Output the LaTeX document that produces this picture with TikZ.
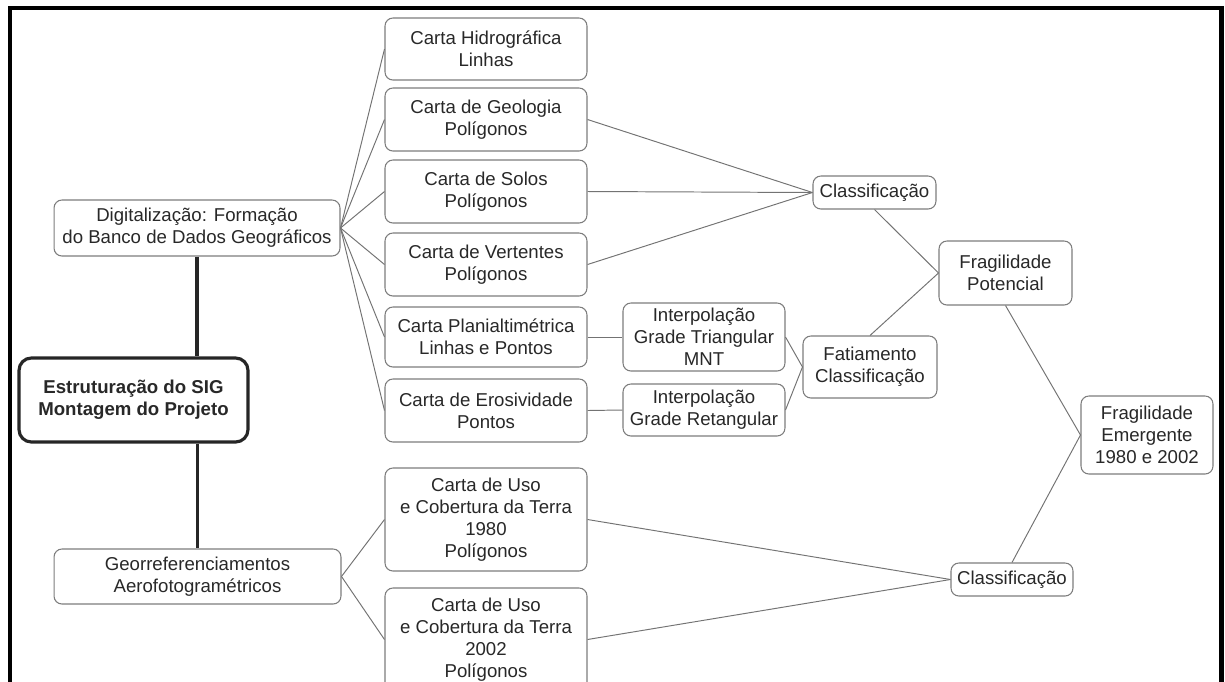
\documentclass[tikz,border=0pt]{standalone}
\usepackage{fontspec}
\setmainfont{Liberation Sans}
\usepackage{xcolor}
\usetikzlibrary{positioning}
\definecolor{MapEdge}{RGB}{125,125,125}
\definecolor{MapLine}{RGB}{115,115,115}
\definecolor{MapText}{RGB}{40,40,40}
\tikzset{
  mapbox/.style={draw=MapEdge, line width=0.6pt, rounded corners=4.5pt, fill=white,
    align=center, inner sep=0pt, text=MapText, font=\fontsize{10.6}{12.4}\selectfont},
  cartabox/.style={mapbox, minimum width=4.04cm, minimum height=1.26cm},
  usobox/.style={mapbox, minimum width=4.04cm, minimum height=2.06cm},
  rootbox/.style={mapbox, draw=black!85, line width=1.8pt, rounded corners=7pt,
    font=\bfseries\fontsize{10.6}{12.4}\selectfont},
  link/.style={draw=MapLine, line width=0.55pt},
  trunk/.style={draw=black!85, line width=1.8pt},
}

\begin{document}
\begin{tikzpicture}[x=0.02cm, y=-0.02cm]
  \useasboundingbox (0,0) rectangle (1225,681);
  \clip (0,0) rectangle (1225,681);

  % left column
  \node[mapbox, minimum width=5.72cm, minimum height=1.12cm] (dig) at (197,228) {Digitalização: Formação\\do Banco de Dados Geográficos};
  \node[rootbox, minimum width=4.58cm, minimum height=1.68cm] (root) at (133.5,400) {Estruturação do SIG\\Montagem do Projeto};
  \node[mapbox, minimum width=5.74cm, minimum height=1.10cm] (geo) at (197.5,576.5) {Georreferenciamentos\\Aerofotogramétricos};

  % cartas
  \node[cartabox, minimum height=1.24cm] (hidro) at (486,49) {Carta Hidrográfica\\Linhas};
  \node[cartabox] (geol) at (486,119.5) {Carta de Geologia\\Polígonos};
  \node[cartabox] (solos) at (486,191.5) {Carta de Solos\\Polígonos};
  \node[cartabox] (vert) at (486,264.5) {Carta de Vertentes\\Polígonos};
  \node[cartabox, minimum height=1.20cm] (plani) at (486,337) {Carta Planialtimétrica\\Linhas e Pontos};
  \node[cartabox] (eros) at (486,410.5) {Carta de Erosividade\\Pontos};
  \node[usobox] (uso80) at (486,519.5) {Carta de Uso\\e Cobertura da Terra\\1980\\Polígonos};
  \node[usobox] (uso02) at (486,639.5) {Carta de Uso\\e Cobertura da Terra\\2002\\Polígonos};

  % processamento
  \node[mapbox, minimum width=3.24cm, minimum height=1.36cm] (tri) at (704,337) {Interpolação\\Grade Triangular\\MNT};
  \node[mapbox, minimum width=3.24cm, minimum height=1.04cm] (ret) at (704,410) {Interpolação\\Grade Retangular};
  \node[mapbox, minimum width=2.68cm, minimum height=1.24cm] (fat) at (870,367) {Fatiamento\\Classificação};
  \node[mapbox, minimum width=2.46cm, minimum height=0.66cm] (clsA) at (874.5,192.5) {Classificação};
  \node[mapbox, minimum width=2.66cm, minimum height=1.28cm] (pot) at (1005.5,273) {Fragilidade\\Potencial};
  \node[mapbox, minimum width=2.64cm, minimum height=1.56cm] (emerg) at (1147,435) {Fragilidade\\Emergente\\1980 e 2002};
  \node[mapbox, minimum width=2.44cm, minimum height=0.66cm] (clsB) at (1012,579.5) {Classificação};

  % ligacoes
  \draw[trunk] (dig.south) -- (dig.south |- root.north);
  \draw[trunk] (root.south -| geo.north) -- (geo.north);
  \foreach \c in {hidro,geol,solos,vert,plani,eros}
    \draw[link] (dig.east) -- (\c.west);
  \foreach \c in {uso80,uso02}
    \draw[link] (geo.east) -- (\c.west);
  \foreach \c in {geol,solos,vert}
    \draw[link] (\c.east) -- (clsA.west);
  \draw[link] (plani.east) -- (tri.west);
  \draw[link] (eros.east) -- (ret.west);
  \draw[link] (tri.east) -- (fat.west);
  \draw[link] (ret.east) -- (fat.west);
  \draw[link] (clsA.south) -- (pot.west);
  \draw[link] (fat.north) -- (pot.west);
  \draw[link] (pot.south) -- (emerg.west);
  \draw[link] (clsB.north) -- (emerg.west);
  \draw[link] (uso80.east) -- (clsB.west);
  \draw[link] (uso02.east) -- (clsB.west);

  % moldura
  \draw[line width=2.4pt, line join=miter] (10,690) -- (10,8) -- (1221.5,8) -- (1221.5,690);
\end{tikzpicture}
\end{document}
